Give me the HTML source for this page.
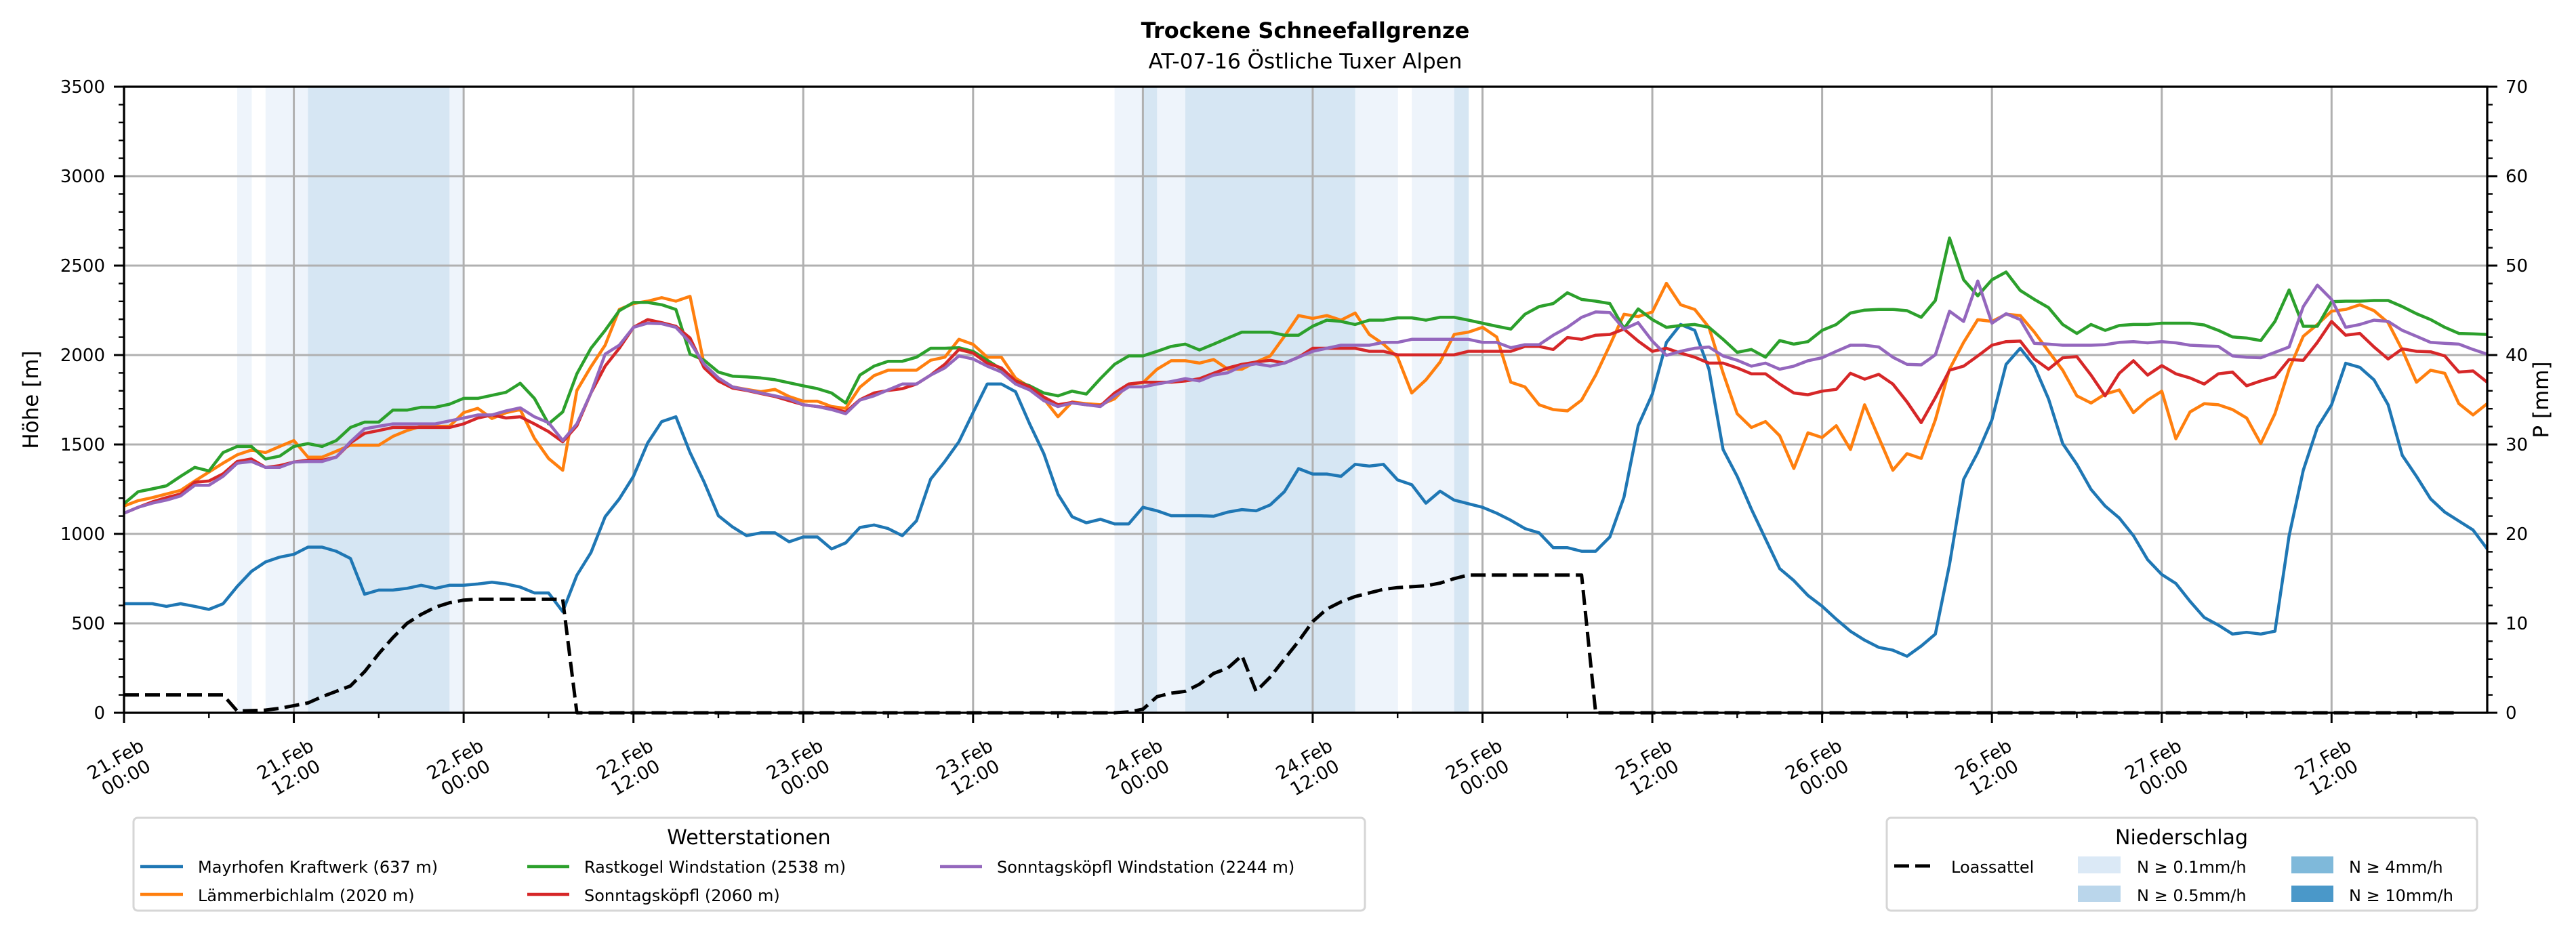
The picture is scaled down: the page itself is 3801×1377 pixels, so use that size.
<!DOCTYPE html>
<html><head><meta charset="utf-8"><title>Trockene Schneefallgrenze</title>
<style>
html,body{margin:0;padding:0;background:#fff;}
svg{display:block;font-family:"DejaVu Sans","Liberation Sans",sans-serif;}
</style></head>
<body>
<svg id="chart" width="3801" height="1377" viewBox="0 0 3801 1377" xmlns="http://www.w3.org/2000/svg">
  <rect x="0" y="0" width="3801" height="1377" fill="#fff"/>
  <g id="bands"></g>
  <g id="grid"></g>
  <g id="series"></g>
  <g id="axes"></g>
  <text x="1926" y="56" text-anchor="middle" font-size="32" font-weight="bold">Trockene Schneefallgrenze</text>
  <text x="1926" y="101" text-anchor="middle" font-size="31">AT-07-16 Östliche Tuxer Alpen</text>
  <text transform="translate(56,590) rotate(-90)" text-anchor="middle" font-size="31">Höhe [m]</text>
  <text transform="translate(3760,590) rotate(-90)" text-anchor="middle" font-size="31">P [mm]</text>

  <g>
    <rect x="197" y="1207" width="1817" height="137" rx="6" fill="#fff" stroke="#d6d6d6" stroke-width="3"/>
    <text x="1105" y="1246" text-anchor="middle" font-size="30">Wetterstationen</text>
    <g><line x1="207" y1="1279" x2="270" y2="1279" stroke="#1f77b4" stroke-width="4.5"/><text x="292" y="1288" font-size="24">Mayrhofen Kraftwerk (637 m)</text></g>
    <g><line x1="207" y1="1320" x2="270" y2="1320" stroke="#ff7f0e" stroke-width="4.5"/><text x="292" y="1330" font-size="24">Lämmerbichlalm (2020 m)</text></g>
    <g><line x1="778" y1="1279" x2="840" y2="1279" stroke="#2ca02c" stroke-width="4.5"/><text x="862" y="1288" font-size="24">Rastkogel Windstation (2538 m)</text></g>
    <g><line x1="778" y1="1320" x2="840" y2="1320" stroke="#d62728" stroke-width="4.5"/><text x="862" y="1330" font-size="24">Sonntagsköpfl (2060 m)</text></g>
    <g><line x1="1387" y1="1279" x2="1449" y2="1279" stroke="#9467bd" stroke-width="4.5"/><text x="1471" y="1288" font-size="24">Sonntagsköpfl Windstation (2244 m)</text></g>
  </g>

  <g>
    <rect x="2784" y="1207" width="871" height="137" rx="6" fill="#fff" stroke="#d6d6d6" stroke-width="3"/>
    <text x="3219" y="1246" text-anchor="middle" font-size="30">Niederschlag</text>
    <g><line x1="2795" y1="1278" x2="2852" y2="1278" stroke="#000" stroke-width="5" stroke-dasharray="22 9"/><text x="2879" y="1288" font-size="24">Loassattel</text></g>
    <g><rect x="3066" y="1264" width="63" height="25" fill="#dbe9f6"/><text x="3153" y="1288" font-size="24">N ≥ 0.1mm/h</text></g>
    <g><rect x="3066" y="1307" width="63" height="24" fill="#bad6eb"/><text x="3153" y="1330" font-size="24">N ≥ 0.5mm/h</text></g>
    <g><rect x="3381" y="1264" width="62" height="25" fill="#7fb9da"/><text x="3466" y="1288" font-size="24">N ≥ 4mm/h</text></g>
    <g><rect x="3381" y="1307" width="62" height="24" fill="#4a98c9"/><text x="3466" y="1330" font-size="24">N ≥ 10mm/h</text></g>
  </g>
</svg>
<script>
const xTickLabels=["21.Feb|00:00","21.Feb|12:00","22.Feb|00:00","22.Feb|12:00","23.Feb|00:00","23.Feb|12:00","24.Feb|00:00","24.Feb|12:00","25.Feb|00:00","25.Feb|12:00","26.Feb|00:00","26.Feb|12:00","27.Feb|00:00","27.Feb|12:00"];
const yTicks=[0,500,1000,1500,2000,2500,3000,3500];
const y2Ticks=[0,10,20,30,40,50,60,70];
const mayrhofen=[610,610,610,595,610,595,578,610,706,790,843,870,886,926,926,903,863,663,686,686,696,713,696,713,713,720,730,720,703,670,670,566,769,896,1096,1196,1322,1508,1628,1655,1455,1289,1102,1039,990,1006,1006,956,983,983,916,950,1036,1050,1030,990,1073,1306,1405,1515,1678,1838,1838,1795,1615,1449,1222,1096,1062,1082,1056,1056,1149,1129,1102,1102,1102,1099,1122,1136,1129,1162,1236,1365,1335,1335,1322,1389,1379,1389,1302,1275,1172,1239,1189,1169,1149,1116,1076,1030,1006,923,923,903,903,983,1206,1605,1782,2071,2171,2138,1921,1472,1322,1139,972,806,739,656,596,523,456,406,366,350,316,373,440,829,1305,1455,1638,1948,2038,1938,1755,1505,1389,1249,1156,1089,990,856,773,723,623,533,490,440,450,440,456,990,1356,1595,1722,1954,1931,1861,1722,1439,1322,1196,1122,1072,1022,916];
const laemmerbichlalm=[1156,1186,1203,1223,1243,1296,1346,1396,1442,1469,1455,1489,1522,1429,1429,1462,1496,1496,1496,1545,1578,1602,1602,1602,1678,1702,1645,1678,1695,1535,1422,1356,1802,1935,2055,2255,2288,2301,2321,2301,2328,1945,1862,1822,1808,1795,1808,1768,1742,1742,1712,1702,1820,1885,1915,1915,1915,1971,1988,2088,2060,1988,1988,1871,1822,1755,1655,1738,1728,1722,1755,1838,1845,1921,1968,1968,1955,1975,1921,1921,1961,1995,2105,2221,2205,2221,2195,2235,2115,2061,1988,1788,1861,1961,2115,2128,2155,2101,1848,1822,1722,1695,1688,1748,1888,2055,2228,2215,2241,2401,2281,2255,2155,1900,1672,1595,1628,1549,1366,1565,1539,1605,1472,1722,1539,1356,1449,1422,1638,1921,2071,2198,2188,2228,2221,2128,2021,1915,1772,1732,1782,1805,1678,1748,1798,1532,1682,1728,1722,1695,1648,1505,1672,1921,2105,2171,2245,2255,2281,2248,2181,2028,1848,1915,1898,1728,1665,1728];
const rastkogel=[1169,1236,1252,1269,1322,1372,1352,1455,1489,1489,1419,1435,1489,1505,1489,1522,1595,1625,1625,1692,1692,1708,1708,1725,1758,1758,1775,1792,1842,1758,1615,1682,1895,2038,2138,2248,2294,2294,2281,2255,2005,1971,1905,1882,1878,1872,1862,1845,1828,1812,1788,1732,1888,1938,1965,1965,1988,2038,2038,2041,2021,1971,1921,1855,1828,1788,1772,1798,1782,1868,1948,1995,1995,2021,2048,2061,2028,2061,2095,2128,2128,2128,2111,2111,2161,2195,2188,2171,2195,2195,2208,2208,2195,2211,2211,2195,2178,2161,2145,2228,2271,2288,2348,2311,2301,2288,2148,2258,2198,2155,2165,2171,2155,2088,2015,2031,1988,2081,2061,2075,2138,2171,2235,2251,2255,2255,2248,2211,2305,2654,2421,2331,2421,2464,2361,2311,2265,2171,2121,2171,2138,2165,2171,2171,2178,2178,2178,2168,2138,2101,2095,2081,2188,2364,2161,2161,2298,2301,2301,2305,2305,2271,2231,2198,2155,2121,2118,2115];
const sonntagskoepfl=[1116,1149,1179,1203,1223,1289,1296,1336,1405,1419,1372,1382,1402,1412,1412,1429,1509,1562,1578,1595,1595,1595,1595,1595,1615,1648,1665,1648,1655,1615,1572,1515,1605,1788,1938,2038,2155,2198,2181,2161,2095,1928,1855,1815,1802,1785,1768,1745,1722,1712,1702,1682,1750,1788,1802,1812,1838,1888,1948,2031,2011,1955,1928,1855,1822,1765,1722,1735,1722,1715,1788,1838,1848,1848,1848,1855,1868,1898,1928,1948,1961,1971,1955,1988,2038,2038,2038,2038,2021,2021,2001,2001,2001,2001,2001,2021,2021,2021,2021,2048,2048,2031,2098,2088,2111,2115,2145,2078,2021,2038,2011,1988,1955,1955,1928,1895,1895,1838,1788,1778,1798,1808,1898,1865,1892,1838,1738,1622,1762,1915,1938,1995,2055,2075,2078,1978,1921,1985,1991,1888,1772,1898,1968,1888,1941,1895,1872,1838,1895,1905,1828,1855,1878,1975,1971,2071,2188,2111,2121,2045,1978,2035,2021,2018,1995,1905,1911,1848];
const sonntagskoepflWind=[1116,1149,1172,1189,1212,1272,1272,1322,1395,1405,1372,1372,1402,1405,1405,1429,1515,1588,1602,1615,1615,1615,1615,1632,1648,1665,1665,1688,1705,1655,1622,1522,1615,1788,2005,2055,2155,2178,2175,2155,2071,1948,1872,1822,1805,1788,1772,1755,1722,1712,1695,1672,1748,1772,1805,1838,1838,1888,1928,1995,1978,1938,1905,1838,1805,1745,1712,1732,1722,1712,1772,1822,1822,1838,1852,1868,1855,1888,1901,1938,1951,1938,1955,1988,2021,2038,2055,2055,2055,2071,2071,2088,2088,2088,2088,2088,2071,2071,2041,2058,2058,2111,2155,2211,2241,2238,2145,2181,2078,1998,2021,2038,2045,1995,1971,1938,1955,1921,1938,1968,1985,2021,2055,2055,2045,1988,1948,1945,2001,2245,2188,2414,2178,2231,2198,2065,2061,2055,2055,2055,2058,2071,2075,2068,2075,2068,2055,2051,2048,1995,1988,1985,2015,2045,2271,2391,2311,2155,2171,2195,2188,2138,2105,2071,2065,2061,2031,2005];
const loassattel=[100,100,100,100,100,100,100,100,10,12,15,25,40,55,90,120,150,230,330,420,500,550,590,615,630,635,635,635,635,635,635,635,0,0,0,0,0,0,0,0,0,0,0,0,0,0,0,0,0,0,0,0,0,0,0,0,0,0,0,0,0,0,0,0,0,0,0,0,0,0,0,5,20,90,110,120,160,220,250,320,120,200,300,400,510,580,620,650,670,690,700,705,710,725,750,770,770,770,770,770,770,770,770,770,0,0,0,0,0,0,0,0,0,0,0,0,0,0,0,0,0,0,0,0,0,0,0,0,0,0,0,0,0,0,0,0,0,0,0,0,0,0,0,0,0,0,0,0,0,0,0,0,0,0,0,0,0,0,0,0,0,0,0,0,0,0];
const precipLevel=[0,0,0,0,0,0,0,0,1,0,1,1,1,2,2,2,2,2,2,2,2,2,2,1,0,0,0,0,0,0,0,0,0,0,0,0,0,0,0,0,0,0,0,0,0,0,0,0,0,0,0,0,0,0,0,0,0,0,0,0,0,0,0,0,0,0,0,0,0,0,1,1,2,1,1,2,2,2,2,2,2,2,2,2,2,2,2,1,1,1,0,1,1,1,2,0,0,0,0,0,0,0,0,0,0,0,0,0,0,0,0,0,0,0,0,0,0,0,0,0,0,0,0,0,0,0,0,0,0,0,0,0,0,0,0,0,0,0,0,0,0,0,0,0,0,0,0,0,0,0,0,0,0,0,0,0,0,0,0,0,0,0,0,0,0,0,0,0];

const NS="http://www.w3.org/2000/svg";
const L=183,R=3670,T=128,B=1052,HMAX=167,YMAX=3500,Y2MAX=70;
function xs(h){return L+h/HMAX*(R-L);}
function ys(v){return B-v/YMAX*(B-T);}
function y2s(v){return B-v/Y2MAX*(B-T);}
function mk(tag,attrs,parent){const e=document.createElementNS(NS,tag);for(const k in attrs)e.setAttribute(k,attrs[k]);parent.appendChild(e);return e;}

const bandsG=document.getElementById('bands');
const bandColors=["none","#eef4fb","#d6e6f3"];
precipLevel.forEach((lv,i)=>{
  if(lv>0&&i<HMAX){
    const r=mk('rect',{x:xs(i),y:T,width:xs(i+1)-xs(i)+0.6,height:B-T,fill:bandColors[lv]},bandsG);
    
    
  }
});

const gridG=document.getElementById('grid');
yTicks.forEach(v=>{
  const l=mk('line',{x1:L,x2:R,y1:ys(v),y2:ys(v),stroke:'#b0b0b0','stroke-width':3},gridG);
  
  
});
xTickLabels.forEach((t,i)=>{
  const l=mk('line',{x1:xs(i*12),x2:xs(i*12),y1:T,y2:B,stroke:'#b0b0b0','stroke-width':3},gridG);
  
  
});

const seriesG=document.getElementById('series');
function drawLine(data,color,name,extra){
  const d=data.map((v,i)=>(i?'L':'M')+xs(i).toFixed(1)+' '+ys(v).toFixed(1)).join(' ');
  const p=mk('path',Object.assign({d:d,fill:'none',stroke:color,'stroke-width':4.5,'stroke-linejoin':'round'},extra||{}),seriesG);
  
  
}
drawLine(mayrhofen,'#1f77b4','line-mayrhofen');
drawLine(laemmerbichlalm,'#ff7f0e','line-laemmerbichlalm');
drawLine(rastkogel,'#2ca02c','line-rastkogel');
drawLine(sonntagskoepfl,'#d62728','line-sonntagskoepfl');
drawLine(sonntagskoepflWind,'#9467bd','line-sonntagskoepfl-wind');
drawLine(loassattel,'#000','line-loassattel',{'stroke-width':5,'stroke-dasharray':'22 9'});

const axG=document.getElementById('axes');
const sp=mk('rect',{x:L,y:T,width:R-L,height:B-T,fill:'none',stroke:'#000','stroke-width':3.3},axG);


yTicks.forEach(v=>{
  mk('line',{x1:L-15,x2:L,y1:ys(v),y2:ys(v),stroke:'#000','stroke-width':3},axG);
  const t=mk('text',{x:L-28,y:ys(v)+9,'text-anchor':'end','font-size':26},axG);
  t.textContent=v;
  
  
});
for(let v=100;v<YMAX;v+=100){ if(v%500) mk('line',{x1:L-8,x2:L,y1:ys(v),y2:ys(v),stroke:'#000','stroke-width':2.4},axG); }
y2Ticks.forEach(v=>{
  mk('line',{x1:R,x2:R+15,y1:y2s(v),y2:y2s(v),stroke:'#000','stroke-width':3},axG);
  const t=mk('text',{x:R+27,y:y2s(v)+9,'text-anchor':'start','font-size':26},axG);
  t.textContent=v;
  
  
});
for(let v=2;v<Y2MAX;v+=2){ if(v%10) mk('line',{x1:R,x2:R+8,y1:y2s(v),y2:y2s(v),stroke:'#000','stroke-width':2.4},axG); }
xTickLabels.forEach((lab,i)=>{
  const x=xs(i*12);
  mk('line',{x1:x,x2:x,y1:B,y2:B+15,stroke:'#000','stroke-width':3},axG);
  const g=mk('g',{transform:'translate('+(x-5)+',1134) rotate(-30)'},axG);
  
  
  const parts=lab.split('|');
  const t1=mk('text',{x:0,y:-6,'text-anchor':'middle','font-size':27},g); t1.textContent=parts[0];
  const t2=mk('text',{x:0,y:25,'text-anchor':'middle','font-size':27},g); t2.textContent=parts[1];
});
for(let h=6;h<=HMAX;h+=12){ mk('line',{x1:xs(h),x2:xs(h),y1:B,y2:B+8,stroke:'#000','stroke-width':2.4},axG); }
</script>
</body></html>
